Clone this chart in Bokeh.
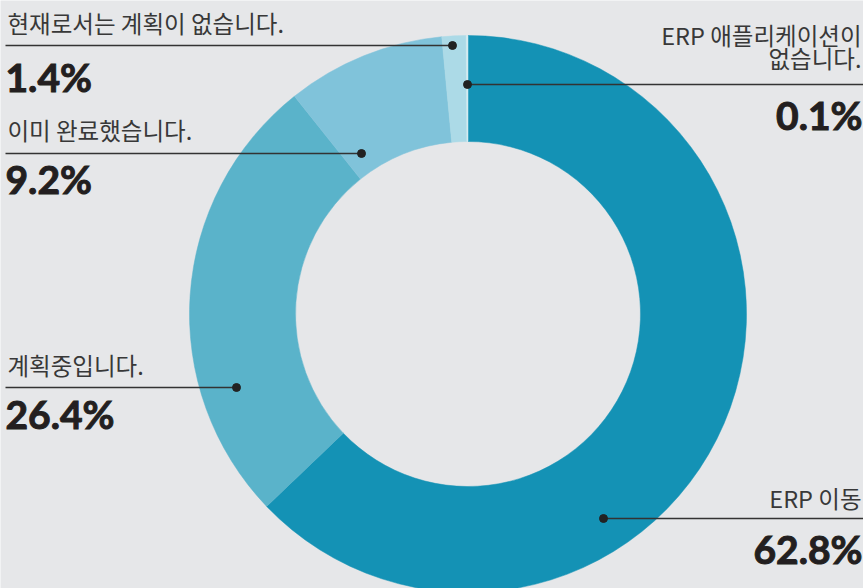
import numpy as np
from bokeh.plotting import figure
from bokeh.models import Range1d, ColumnDataSource
from bokeh.core.properties import value
from bokeh.embed import file_html
from bokeh.resources import INLINE

# ---- data ----
categories = ["ERP 이동", "계획중입니다.", "이미 완료했습니다.", "현재로서는 계획이 없습니다.", "ERP 애플리케이션이 없습니다."]
label_lines = [["ERP 이동"], ["계획중입니다."], ["이미 완료했습니다."], ["현재로서는 계획이 없습니다."], ["ERP 애플리케이션이", "없습니다."]]
values = [62.8, 26.4, 9.2, 1.4, 0.1]
colors = ["#1492b5", "#5ab3ca", "#80c3da", "#acdae7", "#d3ebf1"]

# ---- layout (screen px, y down) ----
W, H = 863, 588
CX, CY = 467.5, 313.5
R_OUT, R_IN = 278.5, 172.5
sides = ["right", "left", "left", "left", "right"]
label_mid = [[497], [364], [129], [22.5], [34, 57.5]]
line_y = [518, 387, 153, 45, 84]
dot_x = [603, 236, 361, 452, 467]
num_mid = [548.5, 413.5, 178.5, 76, 114]

def sy(y):
    return H - y

p = figure(width=W, height=H, x_range=Range1d(0, W), y_range=Range1d(0, H),
           output_backend="svg", toolbar_location=None, min_border=0)
p.axis.visible = False
p.grid.visible = False
p.outline_line_color = None
p.background_fill_color = "#e6e7e9"
p.border_fill_color = "#e6e7e9"

vals = np.array(values, dtype=float)
frac = vals / vals.sum()
cum = np.concatenate([[0], np.cumsum(frac)])
start = np.pi / 2 - cum[:-1] * 2 * np.pi
end = np.pi / 2 - cum[1:] * 2 * np.pi

src = ColumnDataSource(dict(start=start, end=end, color=colors))
p.annular_wedge(x=CX, y=sy(CY), inner_radius=R_IN, outer_radius=R_OUT,
                inner_radius_units="screen", outer_radius_units="screen",
                start_angle="start", end_angle="end", direction="clock",
                fill_color="color", line_color="color", line_width=0.5, source=src)

# leader lines + dots
x0s, x1s, ys = [], [], []
for i in range(len(values)):
    if sides[i] == "left":
        x0s.append(5); x1s.append(dot_x[i])
    else:
        x0s.append(dot_x[i]); x1s.append(W)
    ys.append(sy(line_y[i]))
p.segment(x0=x0s, y0=ys, x1=x1s, y1=ys, line_color="#333333", line_width=1.6)
p.scatter(x=dot_x, y=ys, size=8, color="#222222")

# labels
for i in range(len(values)):
    left = sides[i] == "left"
    tx = 7 if left else 861
    align = "left" if left else "right"
    for line, m in zip(label_lines[i], label_mid[i]):
        p.text(x=[tx], y=[sy(m)], text=[line], text_align=align, text_baseline="middle",
               text_font=value("Noto Sans CJK KR"), text_font_size="23.5px", text_color="#383838")
    nx = 5 if left else 862
    p.text(x=[nx], y=[sy(num_mid[i])], text=[f"{values[i]}%"], text_align=align,
           text_baseline="middle", text_font=value("Lato"), text_font_style="bold",
           text_font_size="39px", text_color="#231f20", text_outline_color="#231f20")

open("out.html", "w").write(file_html(p, INLINE))
